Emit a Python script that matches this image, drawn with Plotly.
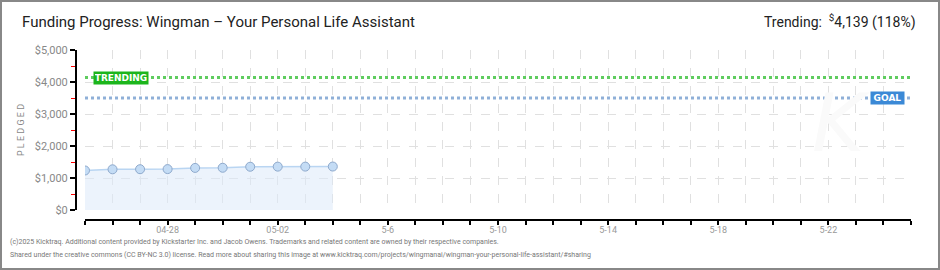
import plotly.graph_objects as go
import pandas as pd

# ---- data ----
dates = pd.date_range("2025-04-25", "2025-05-04", freq="D")
pledged = [1235, 1272, 1275, 1278, 1315, 1320, 1352, 1355, 1356, 1358]
axis_start = "2025-04-25"
axis_end = "2025-05-25"
goal = 3500
trending = 4139
trending_pct = 118
tick_days = pd.date_range(axis_start, axis_end, freq="D")
tick_label_map = {"2025-04-28": "04-28", "2025-05-02": "05-02", "2025-05-06": "5-6",
                  "2025-05-10": "5-10", "2025-05-14": "5-14", "2025-05-18": "5-18",
                  "2025-05-22": "5-22"}
tick_text = [tick_label_map.get(d.strftime("%Y-%m-%d"), "") for d in tick_days]

W, H = 940, 270
L, R, T, B = 76, 29, 50, 50
pw, ph = W - L - R, H - T - B
def px(xp): return (xp - L) / pw
def py(yp): return (H - B - yp) / ph

fig = go.Figure()
fig.add_trace(go.Scatter(x=[axis_start, axis_end], y=[trending, trending], mode="lines",
                         line=dict(color="#5fcc5f", width=3, dash="dot"), hoverinfo="skip"))
fig.add_trace(go.Scatter(x=[axis_start, axis_end], y=[goal, goal], mode="lines",
                         line=dict(color="#8fb0d8", width=3, dash="dot"), hoverinfo="skip"))
fig.add_trace(go.Scatter(x=dates, y=pledged, mode="lines+markers", fill="tozeroy",
                         fillcolor="rgba(220,234,250,0.55)",
                         line=dict(color="#b9d5f2", width=1.5),
                         marker=dict(size=9, color="#c4dcf5", line=dict(color="#8ea9cc", width=1))))

grid = "#e0e0e0"
fig.update_layout(
    width=W, height=H, margin=dict(l=L, r=R, t=T, b=B),
    paper_bgcolor="white", plot_bgcolor="white", showlegend=False,
    font=dict(family="Roboto, DejaVu Sans", color="#888"),
    xaxis=dict(type="date", range=[axis_start, axis_end], domain=[9 / pw, 1],
               anchor="free", position=0,
               tickvals=tick_days, ticktext=tick_text,
               showgrid=True, gridcolor=grid, griddash="dash", gridwidth=1,
               showline=True, linecolor="black", linewidth=2,
               ticks="outside", ticklen=4, tickcolor="black", tickwidth=2,
               ticklabelstandoff=-3,
               tickfont=dict(size=9, color="#999"), zeroline=False),
    yaxis=dict(range=[0, 5000], domain=[10 / ph, 1], anchor="free", position=0,
               dtick=1000, tickformat="$,", showgrid=True, gridcolor=grid, griddash="dash",
               showline=True, linecolor="black", linewidth=2,
               ticks="outside", ticklen=5, tickcolor="black", tickwidth=2,
               minor=dict(dtick=500, ticks="outside", ticklen=4, tickcolor="red", tickwidth=1, showgrid=False),
               tickfont=dict(size=11, color="#888"), zeroline=False,
               title=dict(text="P L E D G E D", font=dict(size=9, color="#888"), standoff=8)),
)

foot_font = dict(size=7, color="#777", family="Roboto")
annos = [
    dict(text="K", x=px(872), y=py(172), xref="paper", yref="paper", showarrow=False,
         font=dict(size=80, color="#fafafa", family="DejaVu Sans", style="italic")),
    dict(text="Funding Progress: Wingman – Your Personal Life Assistant", x=px(20), y=py(22),
         xref="paper", yref="paper", xanchor="left", yanchor="middle", showarrow=False,
         font=dict(size=15, color="#222", family="Roboto")),
    dict(text=f"Trending:  <sup>$</sup>{trending:,} ({trending_pct}%)", x=px(918), y=py(22),
         xref="paper", yref="paper", xanchor="right", yanchor="middle", showarrow=False,
         font=dict(size=14, color="#222", family="Roboto")),
    dict(text="<b>TRENDING</b>", x=px(93), y=trending, xref="paper", yref="y",
         xanchor="left", yanchor="middle", showarrow=False, bgcolor="#1cb51c",
         font=dict(size=9, color="white", family="DejaVu Sans"), borderpad=1,
         width=52, height=10),
    dict(text="<b>GOAL</b>", x=px(905), y=goal, xref="paper", yref="y",
         xanchor="right", yanchor="middle", showarrow=False, bgcolor="#3b89d6",
         font=dict(size=9, color="white", family="DejaVu Sans"), borderpad=1,
         width=31, height=10),
    dict(text="(c)2025 Kicktraq. Additional content provided by Kickstarter Inc. and Jacob Owens. Trademarks and related content are owned by their respective companies.",
         x=px(8), y=py(242), xref="paper", yref="paper", xanchor="left", yanchor="middle",
         showarrow=False, font=foot_font),
    dict(text="Shared under the creative commons (CC BY-NC 3.0) license. Read more about sharing this image at www.kicktraq.com/projects/wingmanai/wingman-your-personal-life-assistant/#sharing",
         x=px(8), y=py(255), xref="paper", yref="paper", xanchor="left", yanchor="middle",
         showarrow=False, font=foot_font),
]
fig.update_layout(annotations=annos)

fig.update_layout(shapes=[
    dict(type="rect", xref="paper", yref="paper", x0=px(1), x1=px(939), y0=py(269), y1=py(1),
         fillcolor="rgba(0,0,0,0)", line=dict(color="#888", width=2), layer="above"),
])

fig.write_html("out.html")
